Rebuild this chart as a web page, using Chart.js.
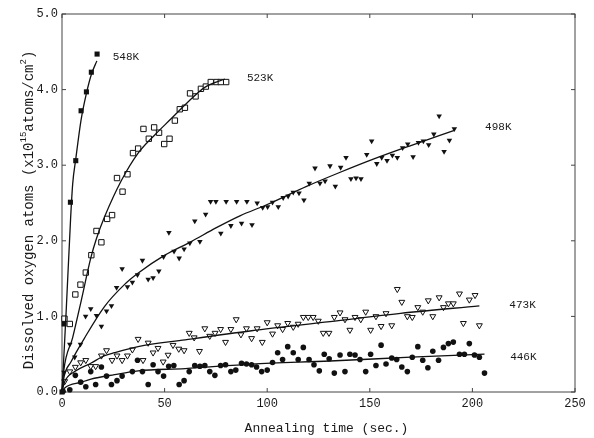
<!DOCTYPE html>
<html>
<head>
<meta charset="utf-8">
<script src="https://cdn.jsdelivr.net/npm/chart.js@4.4.1/dist/chart.umd.min.js"></script>
<style>
html, body { margin: 0; padding: 0; background: #fff; }
#wrap { width: 594px; height: 438px; }
</style>
</head>
<body>
<div id="wrap"><canvas id="chart" width="594" height="438"></canvas></div>
<script>
// ---------------- DATA ----------------

const seriesNames = ["548K", "523K", "498K", "473K", "446K"];

const t548 = [0, 1, 4.1, 6.7, 9.3, 11.9, 14.3, 17.1];
const y548 = [0, 0.90, 2.51, 3.06, 3.72, 3.97, 4.23, 4.47];

const t523 = [1.2, 3.8, 6.5, 9.0, 11.6, 14.3, 16.8, 19.2, 22.0, 24.4, 26.8, 29.5, 31.9, 34.6, 37.1, 39.7,
    42.3, 44.9, 47.3, 49.8, 52.4, 55.0, 57.4, 59.9, 62.4, 65.1, 67.7, 70.1, 72.5, 75.3, 77.4, 80.0];
const y523 = [0.97, 0.90, 1.29, 1.42, 1.58, 1.81, 2.13, 1.98, 2.29, 2.34, 2.83, 2.65, 2.88, 3.16, 3.22, 3.48,
    3.35, 3.50, 3.43, 3.28, 3.35, 3.59, 3.74, 3.76, 3.95, 3.91, 4.01, 4.04, 4.10, 4.10, 4.10, 4.10];

const t498 = [1.0, 3.8, 6.2, 9.0, 11.5, 14.0, 16.8, 19.2, 21.7, 24.1, 26.6, 29.3, 31.9, 34.3, 36.8, 39.2,
    42.0, 44.4, 47.2, 49.5, 52.1, 54.6, 57.1, 59.5, 62.3, 64.7, 67.2, 70.0, 72.4, 75.0, 77.4, 80.0,
    82.3, 85.1, 87.5, 90.1, 92.6, 95.1, 97.8, 100.2, 102.6, 105.4, 107.8, 110.2, 112.7, 115.5, 117.9,
    120.5, 123.3, 125.7, 128.2, 130.6, 133.2, 135.8, 138.4, 140.8, 143.3, 145.7, 148.5, 150.9, 153.4,
    155.8, 158.4, 161.0, 163.4, 166.0, 168.5, 171.1, 173.7, 176.1, 178.7, 181.2, 183.8, 186.2, 188.8, 191.2];
const y498 = [0.26, 0.63, 0.46, 0.63, 1.00, 1.10, 1.01, 0.87, 1.07, 1.14, 1.38, 1.63, 1.39, 1.45, 1.55, 1.74,
    1.49, 1.51, 1.60, 1.79, 2.11, 1.86, 1.77, 1.89, 1.97, 2.26, 1.99, 2.35, 2.52, 2.52, 2.10, 2.52,
    2.20, 2.52, 2.23, 2.52, 2.21, 2.50, 2.44, 2.45, 2.51, 2.45, 2.57, 2.59, 2.64, 2.63, 2.54,
    2.76, 2.96, 2.76, 2.79, 2.99, 2.72, 2.97, 3.10, 2.82, 2.83, 2.82, 3.14, 3.32, 3.02,
    3.10, 3.06, 3.13, 3.10, 3.23, 3.28, 3.11, 3.30, 3.32, 3.27, 3.41, 3.65, 3.18, 3.33, 3.48];

const t473 = [1.3, 3.8, 6.5, 9.1, 11.6, 14.0, 16.4, 19.2, 21.7, 24.4, 26.8, 29.3, 31.9, 34.3, 37.1, 39.5,
    42.0, 44.4, 46.8, 49.3, 51.7, 54.1, 56.9, 59.5, 62.0, 64.4, 67.0, 69.6, 72.0, 74.6, 77.3, 79.7,
    82.3, 84.9, 87.2, 89.9, 92.4, 95.1, 97.6, 100.0, 102.6, 105.1, 107.5, 110.0, 112.7, 115.1, 117.6,
    120.0, 122.4, 124.9, 127.3, 130.1, 132.7, 135.5, 137.9, 140.3, 142.8, 145.6, 148.0, 150.4, 153.0,
    155.5, 157.9, 160.7, 163.4, 165.6, 168.3, 170.7, 173.4, 175.8, 178.5, 180.7, 183.8, 185.9, 188.3,
    190.7, 193.7, 195.6, 198.5, 201.3, 203.4];
const y473 = [0.14, 0.27, 0.33, 0.39, 0.42, 0.34, 0.34, 0.48, 0.55, 0.42, 0.48, 0.42, 0.48, 0.56, 0.70, 0.42,
    0.65, 0.52, 0.58, 0.40, 0.49, 0.62, 0.57, 0.55, 0.78, 0.72, 0.54, 0.84, 0.74, 0.78, 0.83, 0.66,
    0.83, 0.96, 0.76, 0.84, 0.71, 0.84, 0.66, 0.92, 0.77, 0.88, 0.83, 0.91, 0.86, 0.90, 0.99,
    0.99, 0.99, 0.94, 0.78, 0.78, 0.99, 1.05, 0.96, 0.82, 0.99, 0.96, 1.06, 0.82, 1.00,
    0.87, 1.04, 0.88, 1.36, 1.19, 1.00, 0.99, 1.12, 1.06, 1.21, 1.00, 1.25, 1.12, 1.17,
    1.17, 1.30, 0.91, 1.22, 1.28, 0.88];

const t446 = [0.5, 3.8, 6.5, 9.1, 11.6, 14.0, 16.4, 19.2, 21.7, 24.1, 26.8, 29.3, 34.3, 36.8, 39.2, 42.0,
    44.4, 46.8, 49.5, 52.0, 54.5, 57.1, 59.5, 62.0, 64.7, 67.2, 69.6, 72.0, 74.5, 77.3, 79.7, 82.3,
    84.7, 87.5, 89.9, 92.4, 94.8, 97.3, 100.0, 102.6, 105.1, 107.5, 110.0, 112.7, 115.1, 117.6, 120.4,
    122.8, 125.4, 127.8, 130.2, 132.7, 135.5, 137.9, 140.3, 142.8, 145.2, 148.0, 150.4, 153.0, 155.5,
    157.9, 160.7, 163.1, 165.6, 168.3, 170.7, 173.4, 175.8, 178.3, 180.7, 183.5, 185.9, 188.3, 190.7,
    193.7, 196.1, 198.5, 201.0, 203.4, 205.9];
const y446 = [0.01, 0.03, 0.22, 0.13, 0.07, 0.27, 0.10, 0.33, 0.21, 0.10, 0.15, 0.21, 0.27, 0.42, 0.27, 0.10,
    0.36, 0.27, 0.21, 0.34, 0.35, 0.10, 0.15, 0.27, 0.35, 0.34, 0.35, 0.27, 0.22, 0.35, 0.36, 0.27,
    0.29, 0.38, 0.37, 0.36, 0.33, 0.27, 0.29, 0.39, 0.52, 0.43, 0.60, 0.52, 0.43, 0.59, 0.43,
    0.36, 0.28, 0.50, 0.44, 0.25, 0.49, 0.27, 0.50, 0.49, 0.43, 0.27, 0.50, 0.35, 0.62,
    0.37, 0.45, 0.43, 0.33, 0.27, 0.46, 0.60, 0.42, 0.32, 0.54, 0.42, 0.59, 0.64, 0.66,
    0.50, 0.50, 0.64, 0.49, 0.46, 0.25];

// fitted curves
const fit548T = [0, 2, 4.2, 5.2, 6.7, 9.3, 11.9, 14.3, 17];
const fit548Y = [0, 1.05, 2.3, 2.75, 3.08, 3.6, 3.95, 4.2, 4.38];
const fit523T = [0, 0.8, 5.2, 9.3, 14.1, 16.8, 20.8, 29, 37.1, 45.2, 53.4, 61.5, 69.6, 79.4];
const fit523Y = [0, 0.27, 0.72, 1.2, 1.78, 2.03, 2.32, 2.8, 3.16, 3.4, 3.62, 3.84, 4.03, 4.14];
const fit498T = [0, 1, 4.4, 10.9, 20.7, 30.4, 37, 50.1, 63, 75, 86.7, 100, 119.2, 135, 151.7, 170, 191.2];
const fit498Y = [0, 0.2, 0.4, 0.71, 1.13, 1.42, 1.57, 1.81, 1.99, 2.17, 2.33, 2.48, 2.72, 2.9, 3.08, 3.26, 3.46];
const fit473T = [0, 1.2, 6.2, 14, 20.8, 25.6, 37.1, 60, 92.4, 130.6, 165, 203.4];
const fit473Y = [0, 0.13, 0.27, 0.38, 0.48, 0.52, 0.60, 0.69, 0.81, 0.93, 1.04, 1.14];
const fit446T = [0, 1.2, 9.5, 14.1, 25.6, 37.1, 60, 92.4, 130.6, 170, 205.9];
const fit446Y = [0, 0.05, 0.13, 0.17, 0.23, 0.28, 0.31, 0.37, 0.41, 0.46, 0.50];

// where the temperature labels sit, in data units
const labelT = [24.7, 90.1, 206.2, 218, 218.4];
const labelY = [4.43, 4.15, 3.51, 1.15, 0.46];

const xTitle = "Annealing time (sec.)";

// ---------------- CHART ----------------

const INK = "#111";
const MONO = "'Liberation Mono', 'DejaVu Sans Mono', monospace";

function pts(ts, ys) {
    return ts.map((t, i) => ({ x: t, y: ys[i] }));
}

function markers(ts, ys, style, radius, filled, rotation = 0) {
    return {
        data: pts(ts, ys),
        showLine: false,
        pointStyle: style,
        pointRadius: radius,
        pointRotation: rotation,
        pointBackgroundColor: filled ? INK : "#fff",
        pointBorderColor: INK,
        pointBorderWidth: filled ? 0 : 1,
        clip: false
    };
}

function curve(ts, ys) {
    return {
        data: pts(ts, ys),
        showLine: true,
        pointRadius: 0,
        borderColor: INK,
        borderWidth: 1.3,
        cubicInterpolationMode: "monotone",
        fill: false,
        clip: false
    };
}

const framePlugin = {
    id: "frame",
    beforeDatasetsDraw(chart) {
        const { ctx, chartArea: a, scales: { x, y } } = chart;
        ctx.save();
        ctx.strokeStyle = "#444";
        ctx.lineWidth = 1;
        ctx.strokeRect(a.left, a.top, a.right - a.left, a.bottom - a.top);
        ctx.beginPath();
        x.ticks.forEach(tk => {
            const px = x.getPixelForValue(tk.value);
            ctx.moveTo(px, a.bottom); ctx.lineTo(px, a.bottom - 4);
            ctx.moveTo(px, a.top); ctx.lineTo(px, a.top + 4);
        });
        y.ticks.forEach(tk => {
            const py = y.getPixelForValue(tk.value);
            ctx.moveTo(a.left, py); ctx.lineTo(a.left + 4, py);
            ctx.moveTo(a.right, py); ctx.lineTo(a.right - 4, py);
        });
        ctx.stroke();
        ctx.restore();
    },
    afterDraw(chart) {
        const { ctx, chartArea: a, scales: { x, y } } = chart;
        ctx.save();
        ctx.fillStyle = "#1a1a1a";

        // temperature labels
        ctx.font = "11px " + MONO;
        ctx.textBaseline = "middle";
        ctx.textAlign = "left";
        seriesNames.forEach((name, i) => {
            ctx.fillText(name, x.getPixelForValue(labelT[i]), y.getPixelForValue(labelY[i]));
        });

        // x title
        ctx.font = "13px " + MONO;
        ctx.textAlign = "center";
        ctx.textBaseline = "alphabetic";
        ctx.fillText(xTitle, (a.left + a.right) / 2 + 8, 432);

        // y title with superscripts
        const parts = [
            ["Dissolved oxygen atoms (x10", false],
            ["15", true],
            ["atoms/cm", false],
            ["2", true],
            [")", false]
        ];
        const big = "14px " + MONO, small = "9px " + MONO;
        let total = 0;
        parts.forEach(([s, sup]) => { ctx.font = sup ? small : big; total += ctx.measureText(s).width; });
        ctx.translate(33, 210);
        ctx.rotate(-Math.PI / 2);
        ctx.textAlign = "left";
        let pos = -total / 2;
        parts.forEach(([s, sup]) => {
            ctx.font = sup ? small : big;
            ctx.fillText(s, pos, sup ? -7 : 0);
            pos += ctx.measureText(s).width;
        });
        ctx.restore();
    }
};

new Chart(document.getElementById("chart"), {
    type: "scatter",
    data: {
        datasets: [
            curve(fit548T, fit548Y),
            curve(fit523T, fit523Y),
            curve(fit498T, fit498Y),
            curve(fit473T, fit473Y),
            curve(fit446T, fit446Y),
            markers(t548, y548, "rect", 3.6, true),
            markers(t523, y523, "rect", 3.8, false),
            markers(t498, y498, "triangle", 3.2, true, 180),
            markers(t473, y473, "triangle", 3.4, false, 180),
            markers(t446, y446, "circle", 2.8, true)
        ]
    },
    options: {
        responsive: false,
        animation: false,
        events: [],
        layout: { padding: { top: 14, right: 19, left: 0, bottom: 0 } },
        plugins: { legend: { display: false }, tooltip: { enabled: false } },
        scales: {
            x: {
                type: "linear",
                min: 0,
                max: 250,
                ticks: { stepSize: 50, padding: 5, maxRotation: 0, color: "#1a1a1a", font: { family: MONO, size: 12 } },
                grid: { display: false, drawTicks: false },
                border: { display: false },
                afterFit(scale) { scale.height = 46; }
            },
            y: {
                type: "linear",
                min: 0,
                max: 5,
                ticks: { stepSize: 1, padding: 4, color: "#1a1a1a", font: { family: MONO, size: 12 },
                    callback: v => v.toFixed(1) },
                grid: { display: false, drawTicks: false },
                border: { display: false },
                afterFit(scale) { scale.width = 62; }
            }
        }
    },
    plugins: [framePlugin]
});
</script>
</body>
</html>
